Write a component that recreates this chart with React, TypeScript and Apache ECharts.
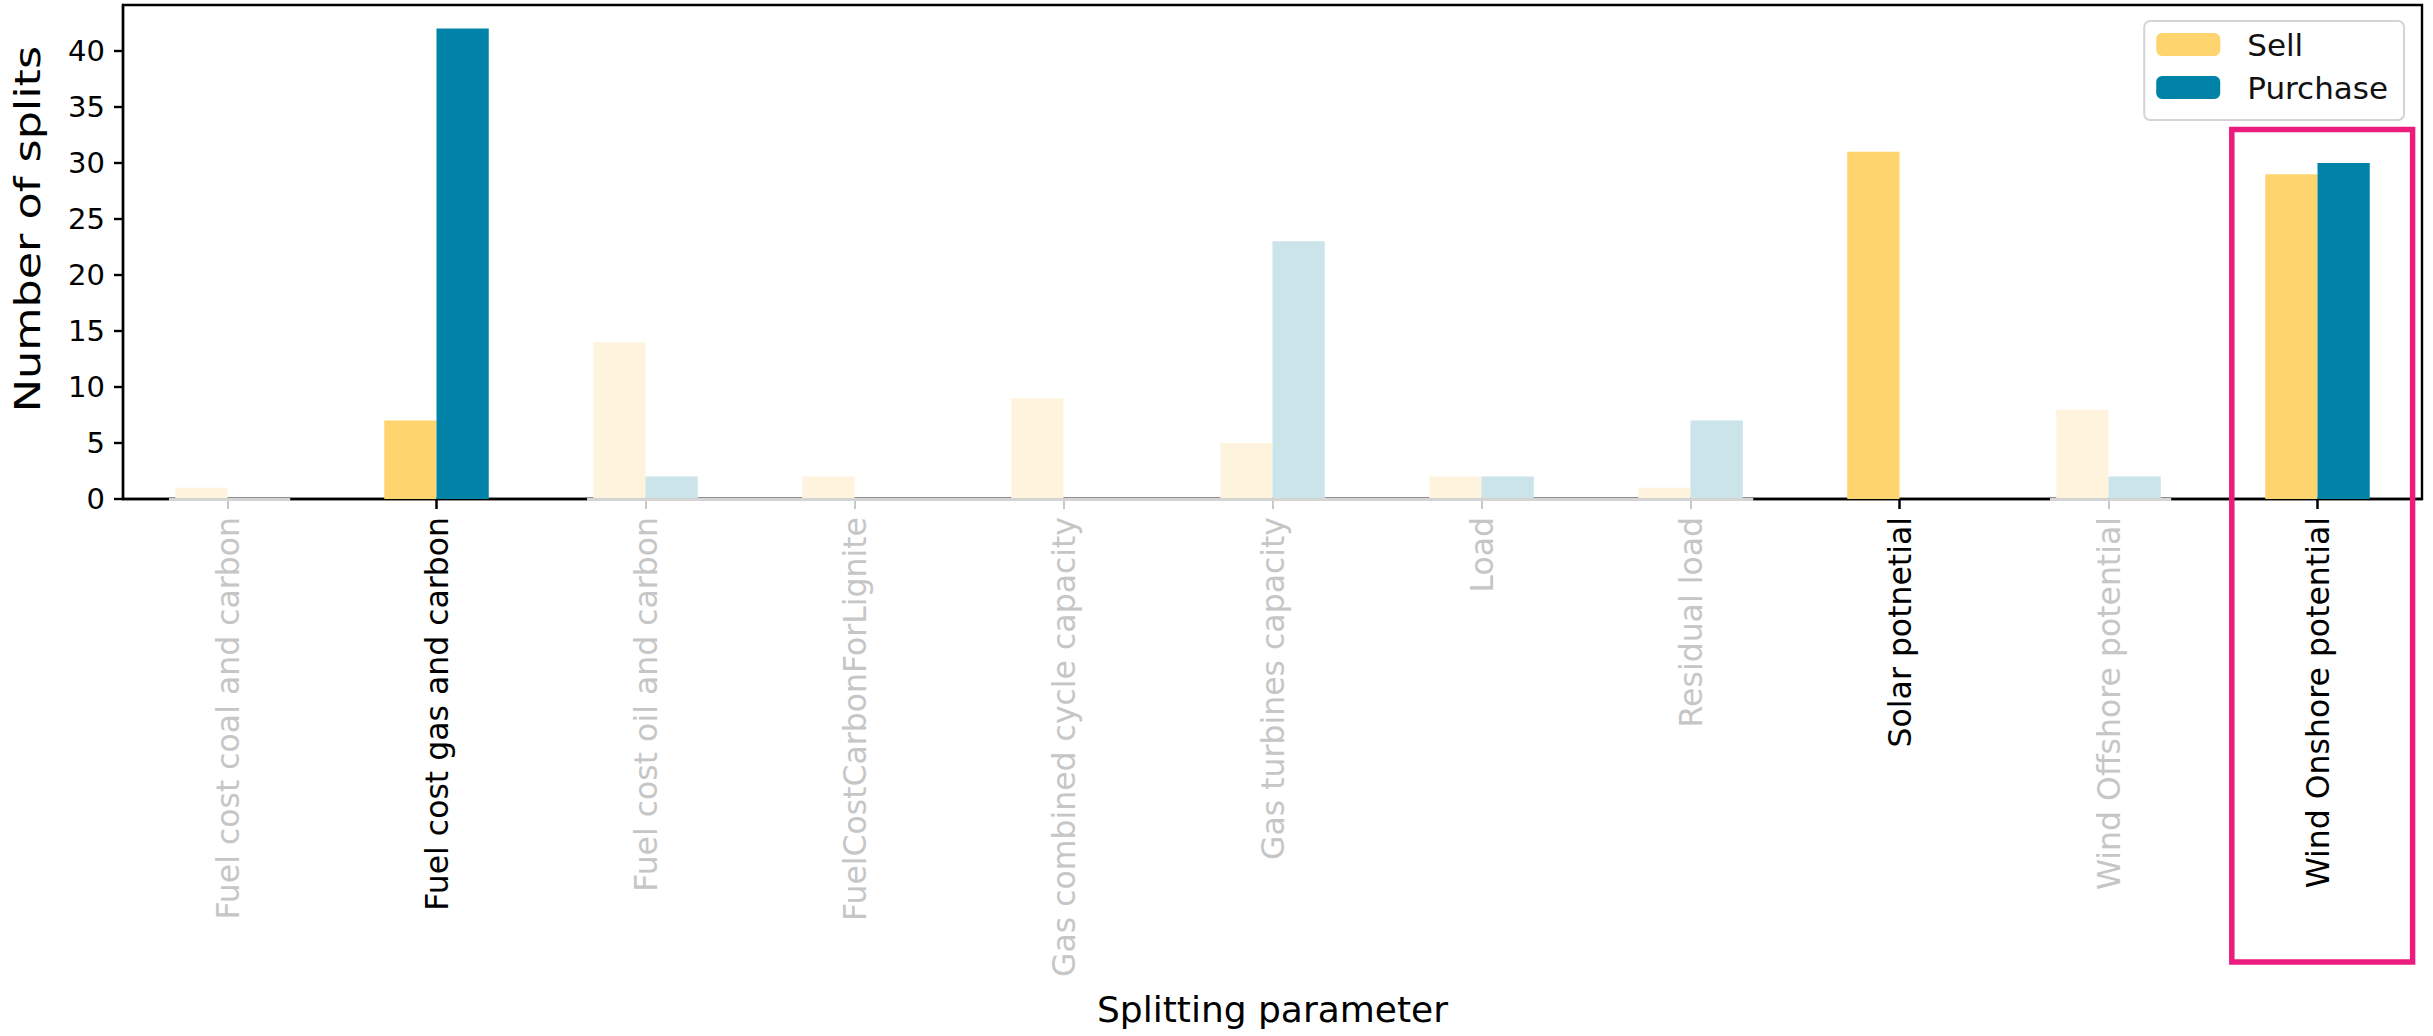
import React, { useEffect, useRef } from 'react';
import * as echarts from 'echarts';

const categories = [
  'Fuel cost coal and carbon',
  'Fuel cost gas and carbon',
  'Fuel cost oil and carbon',
  'FuelCostCarbonForLignite',
  'Gas combined cycle capacity',
  'Gas turbines capacity',
  'Load',
  'Residual load',
  'Solar potnetial',
  'Wind Offshore potential',
  'Wind Onshore potential',
];
const sellValues = [1, 7, 14, 2, 9, 5, 2, 1, 31, 8, 29];
const purchaseValues = [0, 42, 2, 0, 0, 23, 2, 7, 0, 2, 30];
const highlighted = [false, true, false, false, false, false, false, false, true, false, true];
const yTicks = [0, 5, 10, 15, 20, 25, 30, 35, 40];
const yMax = 44.1;
const yTitle = 'Number of splits';
const xTitle = 'Splitting parameter';

const SELL = '#FED46E';
const SELL_FADED = '#FEF4DE';
const PUR = '#0083A6';
const PUR_FADED = '#CAE4EA';
const FONT = 'DejaVu Sans';

function fadedRuns(): [number, number][] {
  const runs: [number, number][] = [];
  let start = -1;
  highlighted.forEach((h, i) => {
    if (!h && start < 0) start = i;
    if ((h || i === highlighted.length - 1) && start >= 0) {
      const end = h ? i - 1 : i;
      runs.push([start - 0.28, end + 0.3]);
      start = -1;
    }
  });
  return runs;
}

export default function App() {
  const ref = useRef<HTMLDivElement>(null);
  useEffect(() => {
    if (!ref.current) return;
    const chart = echarts.init(ref.current, undefined, { renderer: 'svg' });
    const runs = fadedRuns();
    chart.setOption({
      animation: false,
      textStyle: { fontFamily: FONT },
      grid: {
        left: 123,
        right: 11,
        top: 5,
        bottom: 537,
        show: true,
        borderColor: '#000',
        borderWidth: 2.4,
        backgroundColor: 'transparent',
      },
      legend: {
        data: ['Sell', 'Purchase'],
        orient: 'vertical',
        right: 29,
        top: 21,
        itemWidth: 64,
        itemHeight: 23,
        itemGap: 12,
        padding: [8, 16, 17, 12],
        borderColor: '#d4d4d4',
        borderWidth: 2,
        borderRadius: 6,
        backgroundColor: 'rgba(255,255,255,0.8)',
        formatter: (name: string) => `{gap|}${name}`,
        textStyle: {
          fontFamily: FONT,
          fontSize: 31,
          color: '#111',
          rich: { gap: { width: 22 } },
        },
      },
      xAxis: [
        {
          type: 'category',
          data: categories,
          position: 'bottom',
          name: xTitle,
          nameLocation: 'middle',
          nameGap: 492,
          nameTextStyle: { fontFamily: FONT, fontSize: 36, color: '#000' },
          axisLine: { show: true, onZero: false, lineStyle: { color: '#000', width: 2.4 } },
          axisTick: {
            show: true,
            alignWithLabel: true,
            length: 10,
            interval: (i: number) => !highlighted[i],
            lineStyle: { color: '#c8c8c8', width: 2 },
          },
          axisLabel: {
            rotate: 90,
            margin: 18,
            interval: 0,
            fontFamily: FONT,
            fontSize: 31.5,
            color: (_v: string, i: number) => (highlighted[i] ? '#000' : '#c6c6c6'),
          },
        },
        {
          type: 'category',
          data: categories,
          position: 'bottom',
          axisLine: { show: false, onZero: false },
          axisLabel: { show: false },
          axisTick: {
            show: true,
            alignWithLabel: true,
            length: 10,
            interval: (i: number) => highlighted[i],
            lineStyle: { color: '#000', width: 2.5 },
          },
        },
        {
          type: 'value',
          min: -0.5,
          max: 10.5,
          show: false,
          axisLine: { show: false, onZero: false },
        },
      ],
      yAxis: {
        type: 'value',
        min: 0,
        max: yMax,
        splitLine: { show: false },
        axisLine: { show: true, onZero: false, lineStyle: { color: '#000', width: 2.4 } },
        axisTick: { show: true, length: 9, customValues: yTicks, lineStyle: { color: '#000', width: 2.4 } },
        axisLabel: {
          customValues: yTicks,
          margin: 18,
          fontFamily: FONT,
          fontSize: 29,
          color: '#000',
        },
      },
      series: [
        {
          name: 'Sell',
          type: 'bar',
          xAxisIndex: 0,
          barGap: '0%',
          barCategoryGap: '50%',
          itemStyle: { color: SELL },
          data: sellValues.map((v, i) => ({ value: v, itemStyle: { color: highlighted[i] ? SELL : SELL_FADED } })),
        },
        {
          name: 'Purchase',
          type: 'bar',
          xAxisIndex: 0,
          barGap: '0%',
          barCategoryGap: '50%',
          itemStyle: { color: PUR },
          data: purchaseValues.map((v, i) => ({ value: v, itemStyle: { color: highlighted[i] ? PUR : PUR_FADED } })),
        },
        {
          name: 'baseline',
          type: 'line',
          xAxisIndex: 2,
          yAxisIndex: 0,
          data: [],
          showSymbol: false,
          silent: true,
          z: 5,
          markLine: {
            silent: true,
            symbol: ['none', 'none'],
            label: { show: false },
            lineStyle: { color: '#d4d4d4', width: 3.2, type: 'solid' },
            data: runs.map(([a, b]) => [{ coord: [a, 0] }, { coord: [b, 0] }]),
          },
        },
      ],
    });
    const xl = chart.convertToPixel({ xAxisIndex: 2 }, 10 - 0.41) as number;
    const xr = chart.convertToPixel({ xAxisIndex: 2 }, 10 + 0.455) as number;
    chart.setOption({
      graphic: [
        {
          type: 'rect',
          z: 100,
          shape: { x: xl, y: 129.5, width: xr - xl, height: 962 - 129.5 },
          style: { fill: 'none', stroke: '#EC1C7E', lineWidth: 5.5 },
        },
        {
          type: 'text',
          x: 28,
          y: 229,
          rotation: Math.PI / 2,
          scaleX: 1.27,
          style: {
            text: yTitle,
            fontFamily: FONT,
            fontSize: 35,
            fill: '#000',
            align: 'center',
            verticalAlign: 'middle',
          },
        },
      ],
    });
    return () => chart.dispose();
  }, []);
  return (
    <div
      ref={ref}
      style={{ position: 'absolute', left: 0, top: 0, width: 2433, height: 1036 }}
    />
  );
}
